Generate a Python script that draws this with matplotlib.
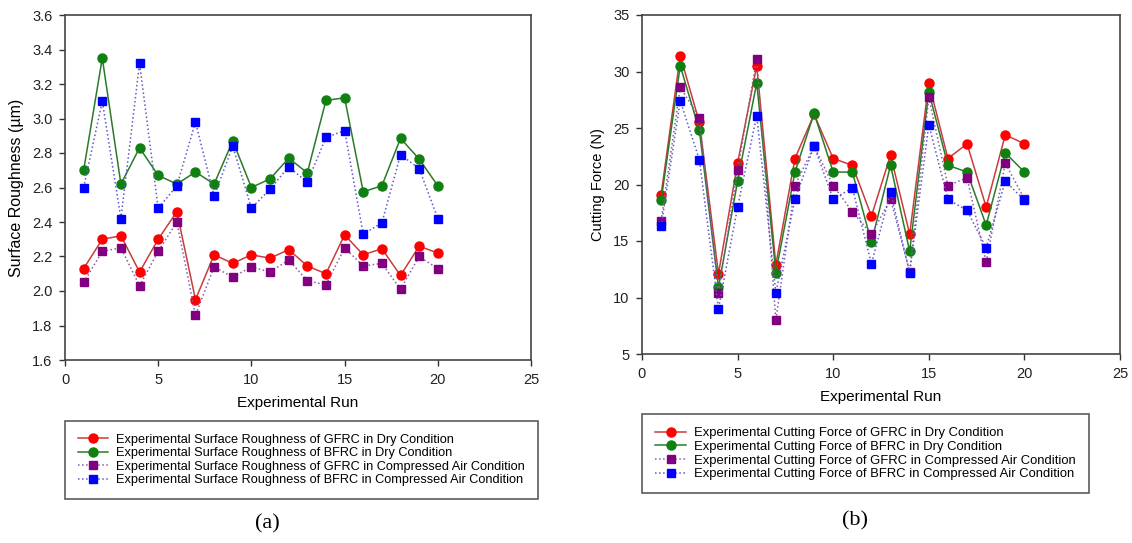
import numpy as np
import matplotlib
matplotlib.use("Agg")
import matplotlib.pyplot as plt

plt.rcParams['font.family'] = ['Liberation Sans', 'DejaVu Sans']

runs = np.arange(1, 21)

# Surface roughness (um)
sr_gfrc_dry = [2.13, 2.30, 2.32, 2.11, 2.30, 2.46, 1.95, 2.21, 2.16, 2.21,
               2.19, 2.24, 2.145, 2.10, 2.325, 2.21, 2.245, 2.09, 2.26, 2.22]
sr_bfrc_dry = [2.70, 3.35, 2.62, 2.83, 2.67, 2.62, 2.69, 2.62, 2.87, 2.60,
               2.65, 2.77, 2.685, 3.105, 3.12, 2.575, 2.61, 2.885, 2.765, 2.61]
sr_gfrc_air = [2.05, 2.23, 2.25, 2.03, 2.23, 2.40, 1.86, 2.14, 2.08, 2.14,
               2.11, 2.18, 2.06, 2.035, 2.25, 2.145, 2.16, 2.01, 2.20, 2.13]
sr_bfrc_air = [2.60, 3.10, 2.42, 3.32, 2.48, 2.61, 2.98, 2.55, 2.84, 2.48,
               2.59, 2.72, 2.63, 2.89, 2.93, 2.33, 2.395, 2.79, 2.71, 2.42]

# Cutting force (N)
cf_gfrc_dry = [19.1, 31.4, 25.5, 12.1, 21.9, 30.5, 12.9, 22.3, 26.2, 22.3,
               21.7, 17.2, 22.6, 15.6, 29.0, 22.3, 23.6, 18.0, 24.4, 23.6]
cf_bfrc_dry = [18.6, 30.5, 24.8, 10.9, 20.3, 29.0, 12.2, 21.1, 26.3, 21.1,
               21.1, 14.9, 21.7, 14.1, 28.2, 21.7, 21.1, 16.4, 22.8, 21.1]
cf_gfrc_air = [16.8, 28.6, 25.9, 10.4, 21.3, 31.1, 8.0, 19.9, 23.4, 19.9,
               17.6, 15.6, 18.7, 12.3, 27.7, 19.9, 20.6, 13.1, 21.9, 18.7]
cf_bfrc_air = [16.3, 27.4, 22.2, 9.0, 18.0, 26.1, 10.4, 18.7, 23.4, 18.7,
               19.7, 13.0, 19.3, 12.2, 25.3, 18.7, 17.7, 14.4, 20.3, 18.6]

sr_labels = ['Experimental Surface Roughness of GFRC in Dry Condition',
             'Experimental Surface Roughness of BFRC in Dry Condition',
             'Experimental Surface Roughness of GFRC in Compressed Air Condition',
             'Experimental Surface Roughness of BFRC in Compressed Air Condition']
cf_labels = ['Experimental Cutting Force of GFRC in Dry Condition',
             'Experimental Cutting Force of BFRC in Dry Condition',
             'Experimental Cutting Force of GFRC in Compressed Air Condition',
             'Experimental Cutting Force of BFRC in Compressed Air Condition']

# line colour, marker colour, linestyle, marker
styles = [('#c83c3c', '#ff0000', '-', 'o'),
          ('#2a7a2a', '#108010', '-', 'o'),
          ('#8a5aa8', '#800080', ':', 's'),
          ('#5a5ac8', '#0000ff', ':', 's')]

W, H = 1132, 543
fig = plt.figure(figsize=(W / 100, H / 100), dpi=100)


def add_axes_px(x0, y0, x1, y1):
    return fig.add_axes([x0 / W, 1 - y1 / H, (x1 - x0) / W, (y1 - y0) / H])


def draw_panel(ax, series, labels, ylim, yticks, yfmt, ylabel, ylabel_size,
               leg_xy, leg_size, tag, tag_xy):
    handles = []
    for vals, (lc, mc, ls, mk) in zip(series, styles):
        h, = ax.plot(runs, vals, linestyle=ls, color=lc, linewidth=1.1,
                     marker=mk, markersize=6.5 if mk == 'o' else 5.6,
                     markerfacecolor=mc, markeredgecolor=mc)
        handles.append(h)
    ax.set_xlim(0, 25)
    ax.set_ylim(*ylim)
    ax.set_xticks([0, 5, 10, 15, 20, 25])
    ax.set_yticks(yticks)
    ax.set_yticklabels([yfmt.format(v) for v in yticks])
    ax.tick_params(direction='out', length=4, width=1, labelsize=10.5,
                   colors='#333333', labelcolor='#222222', pad=5)
    for sp in ax.spines.values():
        sp.set_color('#444444')
        sp.set_linewidth(1.2)
    ax.set_xlabel('Experimental Run', fontsize=11, labelpad=7)
    ax.set_ylabel(ylabel, fontsize=ylabel_size, labelpad=6)

    leg = fig.legend(handles, labels, loc='upper left',
                     bbox_to_anchor=(leg_xy[0] / W, 1 - leg_xy[1] / H),
                     fontsize=leg_size, frameon=True, fancybox=False,
                     handlelength=2.4, handletextpad=0.6, labelspacing=0.12,
                     borderpad=1.0, borderaxespad=0)
    leg.get_frame().set_edgecolor('#333333')
    leg.get_frame().set_linewidth(1.2)

    fig.text(tag_xy[0] / W, 1 - tag_xy[1] / H, tag, ha='center', va='center',
             fontsize=16, family=['Liberation Serif', 'DejaVu Serif'])


ax1 = add_axes_px(65, 15, 531, 360)
draw_panel(ax1, [sr_gfrc_dry, sr_bfrc_dry, sr_gfrc_air, sr_bfrc_air],
           sr_labels, (1.6, 3.6), np.arange(1.6, 3.61, 0.2), '{:.1f}',
           'Surface Roughness (µm)', 11.5, (65, 421), 9.2, '(a)', (267, 524))

ax2 = add_axes_px(642, 15, 1120, 354)
draw_panel(ax2, [cf_gfrc_dry, cf_bfrc_dry, cf_gfrc_air, cf_bfrc_air],
           cf_labels, (5, 35), np.arange(5, 36, 5), '{:.0f}',
           'Cutting Force (N)', 10.5, (642, 414), 9.4, '(b)', (855, 521))

fig.savefig('out.png', dpi=100)
